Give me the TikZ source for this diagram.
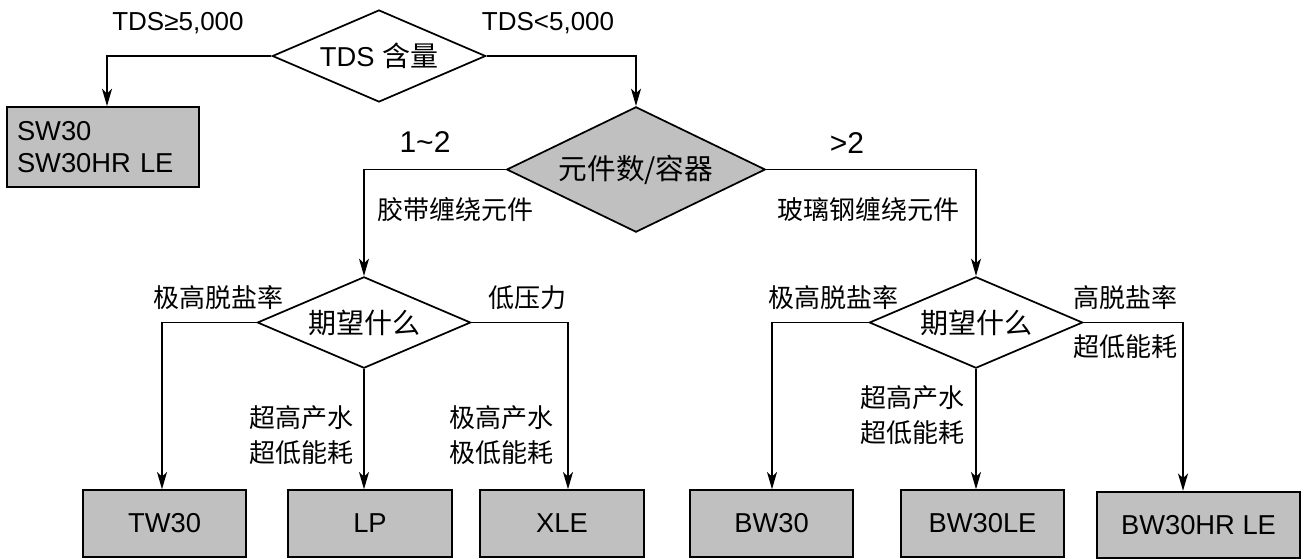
\documentclass[tikz,border=0pt]{standalone}
\usepackage{fontspec}
\setmainfont{Liberation Sans}
\newfontfamily\cjk{Noto Sans CJK SC}
\usepackage{xcolor}
\usepackage{tikz}
\usetikzlibrary{positioning, arrows.meta, calc, shapes.geometric}
\definecolor{boxgray}{HTML}{C0C0C0}

\tikzset{
  decision/.style={diamond, draw, line width=1.3pt, inner sep=0pt, aspect=2.3,
                   minimum width=160pt, minimum height=68.5pt},
  result/.style={rectangle, draw, line width=1.3pt, fill=boxgray, inner sep=0pt,
                 minimum width=122.5pt, minimum height=50pt, font=\fontsize{20.5}{24}\selectfont},
  cjklbl/.style={inner sep=0pt, align=center, font=\cjk\fontsize{19.5}{26.5}\selectfont},
  numlbl/.style={inner sep=0pt, font=\fontsize{19.5}{23}\selectfont},
  arr/.style={-{Stealth[length=13pt, width=7.5pt, inset=3.5pt]}, line width=1.3pt},
}

\begin{document}
\begin{tikzpicture}[x=0.75pt, y=-0.75pt]
    \useasboundingbox (0,0) rectangle (1305,558);

    % decisions
    \node[decision, minimum width=160pt, minimum height=69pt] (tds) at (379,56)
      {\fontsize{20.5}{24}\selectfont TDS {\cjk\fontsize{21}{24}\selectfont 含量}};
    \node[decision, fill=boxgray, aspect=2.06, minimum width=194pt, minimum height=94pt] (count) at (636,169.5)
      {\cjk\fontsize{21.5}{24}\selectfont 元件数/容器};
    \node[decision] (wantL) at (364,322.5) {\cjk\fontsize{21}{24}\selectfont 期望什么};
    \node[decision] (wantR) at (976,322.5) {\cjk\fontsize{21}{24}\selectfont 期望什么};

    % results
    \node[result, minimum width=144pt, minimum height=60pt, inner xsep=7.5pt,
          text width=129pt, align=left] (sw) at (103,147) {SW30\\SW30HR LE};
    \node[result] (tw) at (164.5,523.5) {TW30};
    \node[result] (lp) at (370,523.5) {LP};
    \node[result] (xle) at (562,523.5) {XLE};
    \node[result] (bw) at (771.5,523.5) {BW30};
    \node[result] (bwle) at (982.5,523.5) {BW30LE};
    \node[result, minimum width=152.25pt] (bwhr) at (1198.5,525) {BW30HR LE};

    % branch labels
    \node[numlbl] (geq) at (178,23) {TDS≥5,000};
    \node[numlbl] (less) at (548,23) {TDS<5,000};
    \node[numlbl, font=\fontsize{22.5}{26}\selectfont] (onetwo) at (425,142) {1\textasciitilde2};
    \node[numlbl, font=\fontsize{22.5}{26}\selectfont] (overtwo) at (847,143) {>2};
    \node[cjklbl, anchor=west] (tape) at (377,210) {胶带缠绕元件};
    \node[cjklbl, anchor=west] (frp) at (777,210) {玻璃钢缠绕元件};
    \node[cjklbl] (rejL) at (218,298) {极高脱盐率};
    \node[cjklbl] (lowp) at (527,298) {低压力};
    \node[cjklbl] (flowL) at (301,435) {超高产水\\超低能耗};
    \node[cjklbl] (flowX) at (501,435) {极高产水\\极低能耗};
    \node[cjklbl] (rejR) at (833,298) {极高脱盐率};
    \node[cjklbl] (rejHR) at (1125,298) {高脱盐率};
    \node[cjklbl] (energyHR) at (1125,347) {超低能耗};
    \node[cjklbl] (flowR) at (912,415) {超高产水\\超低能耗};

    % corners
    \coordinate (kSW) at (107,56);
    \coordinate (kTW) at (162,322.5);
    \coordinate (kXLE) at (568,322.5);
    \coordinate (kBW) at (772,322.5);
    \coordinate (kHR) at (1183,322.5);

    % connectors
    \draw[arr] (tds.west) -- (kSW) -- (kSW |- sw.north);
    \draw[arr] (tds.east) -| (count.north);
    \draw[arr] (count.west) -| (wantL.north);
    \draw[arr] (count.east) -| (wantR.north);
    \draw[arr] (wantL.west) -- (kTW) -- (kTW |- tw.north);
    \draw[arr] (wantL.south) -- (wantL.south |- lp.north);
    \draw[arr] (wantL.east) -- (kXLE) -- (kXLE |- xle.north);
    \draw[arr] (wantR.west) -- (kBW) -- (kBW |- bw.north);
    \draw[arr] (wantR.south) -- (wantR.south |- bwle.north);
    \draw[arr] (wantR.east) -- (kHR) -- (kHR |- bwhr.north);
\end{tikzpicture}
\end{document}
